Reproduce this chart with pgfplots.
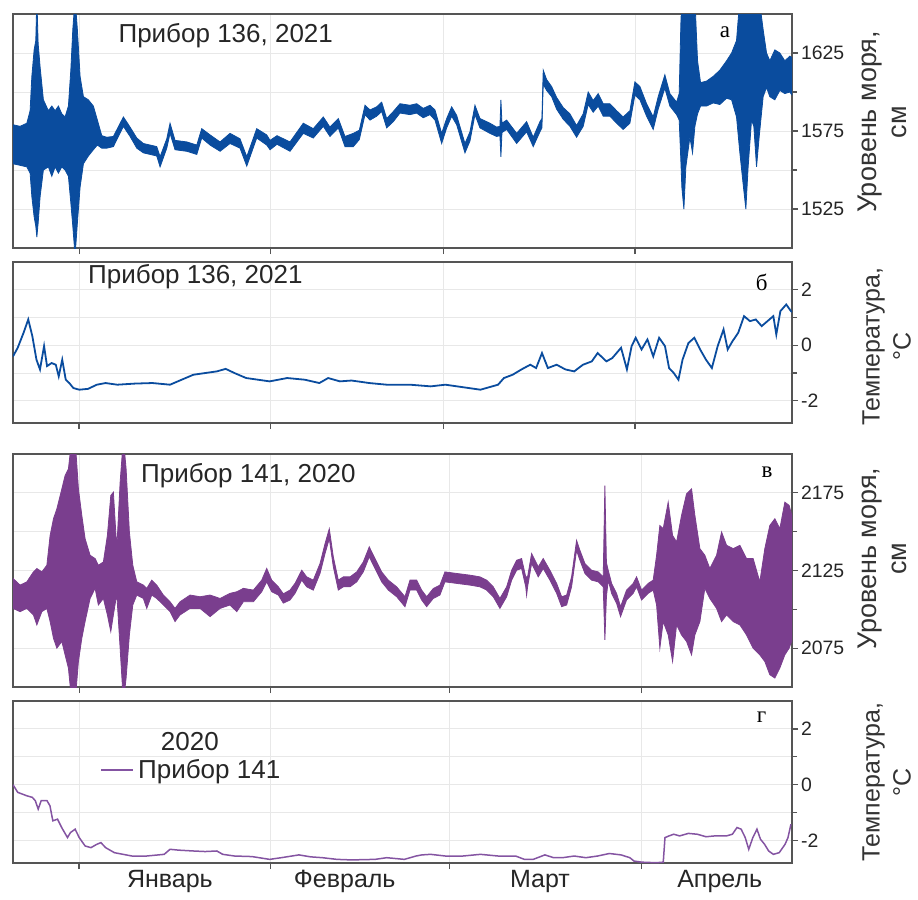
\documentclass[border=0pt]{standalone}
\usepackage{fontspec}
\setmainfont{Liberation Sans}
\newfontfamily\seriffont{Liberation Serif}
\usepackage{pgfplots}
\usepackage{pgfplotstable}
\pgfplotsset{compat=1.18}
\usepgfplotslibrary{fillbetween}

\definecolor{seablue}{RGB}{10,76,158}
\definecolor{seapurple}{RGB}{122,62,142}
\definecolor{temppurple}{RGB}{132,84,162}
\definecolor{framegray}{RGB}{85,85,85}

% sea level, device 136 (2021): day from 1 Jan, lower and upper envelope, cm
\pgfplotstableread{
x lo hi
-10.7 1554 1579
-9.55 1553 1578
-8.46 1552 1580
-7.93 1548 1588
-7.65 1533 1610
-7.28 1520 1627
-7.01 1514 1633
-6.84 1507 1660
-6.63 1516 1631
-6.31 1533 1616
-5.78 1550 1595
-4.97 1552 1588
-4.42 1546 1591
-3.88 1552 1588
-3.35 1548 1591
-2.80 1552 1586
-2.27 1550 1584
-1.73 1546 1591
-1.34 1529 1614
-1.02 1514 1640
-0.65 1495 1660
-0.28 1516 1640
0.16 1539 1610
0.70 1554 1597
1.50 1559 1595
2.31 1563 1591
2.96 1566 1582
3.67 1564 1572
4.48 1564 1571
5.55 1565 1571.5
7.17 1578 1584
8.25 1571.5 1577.5
9.34 1564 1570.5
10.40 1561 1567
12.57 1559 1565
13.11 1552 1558.5
14.19 1564 1570
14.72 1573.5 1580
15.53 1563 1569
17.43 1562 1568
19.05 1560 1566
19.85 1570.5 1576.5
21.20 1566 1572.5
22.82 1562 1568
24.43 1567 1573.5
26.05 1564 1570
27.14 1552.5 1558.5
28.75 1570.5 1576.5
30.37 1566 1572.5
30.91 1563 1569
32.04 1566.5 1572
34.14 1562 1568
36.29 1573.5 1580
37.91 1570.5 1576.5
39.53 1578 1584
40.61 1571.5 1577.5
41.96 1577 1583
43.04 1565 1571.5
44.39 1565 1573.5
45.36 1569.5 1575.5
46.28 1585.5 1591.5
47.09 1582 1588.5
48.17 1584.5 1590.5
48.98 1587.5 1593.5
49.79 1577 1583
50.86 1581 1587.5
51.94 1586.5 1592.5
53.56 1585.5 1591.5
54.64 1586.5 1592.5
55.71 1583.5 1589.5
56.80 1585.5 1591.5
57.61 1582 1588.5
58.69 1567 1573.5
59.50 1577 1583
60.31 1584.5 1590.5
61.12 1579 1585
62.46 1561 1567
63.27 1568.5 1574.5
64.08 1585.5 1591.5
64.89 1577 1583
66.50 1573.5 1580
67.59 1571.5 1577.5
68.12 1572 1578
68.28 1558.5 1595
68.45 1574 1580
69.21 1576 1582
70.83 1567 1573.5
72.44 1574.5 1581
73.51 1565 1571
74.60 1574.5 1581
74.92 1577 1583
75.13 1605 1614
75.68 1601 1608
76.49 1597 1603.5
77.30 1589 1596.5
78.37 1582.5 1590
79.45 1578 1586
80.53 1571 1578.5
81.60 1578 1586
82.41 1592 1600
83.22 1587 1594.5
84.03 1591 1599
84.84 1584.5 1592.5
85.92 1584.5 1592.5
87.01 1580 1588
88.07 1576 1584
89.16 1580 1588
89.97 1598 1606.5
90.78 1595 1603.5
91.86 1584.5 1592.5
92.93 1576 1584
93.74 1589 1597
94.82 1602.5 1611
95.63 1591 1599
96.72 1585.5 1593.5
97.14 1582 1599
97.41 1556 1644
97.57 1539 1660
97.90 1525 1660
98.22 1552 1660
98.87 1571 1660
99.30 1561 1660
99.68 1578 1660
100.11 1586 1620
100.60 1591 1606
101.57 1591 1607
102.64 1593 1610
103.72 1592 1614
104.81 1596 1620
105.62 1595 1625
106.42 1584 1633
106.96 1561 1660
107.49 1541 1660
107.93 1525 1660
108.30 1552 1660
108.85 1582 1660
109.22 1578 1660
109.66 1552 1660
110.08 1571 1660
110.73 1597 1640
111.28 1603 1625
111.81 1597 1620
112.62 1595 1627
113.43 1601 1625
114.24 1599 1620
115.05 1600 1623
115.40 1598 1622
}\levelA

% temperature, device 136 (2021), deg C
\pgfplotstableread{
x t
-10.7 -0.40
-9.94 -0.09
-8.99 0.45
-8.23 0.93
-7.57 0.33
-6.90 -0.52
-6.33 -0.87
-5.67 -0.03
-5.19 -0.75
-4.44 -0.64
-3.77 -0.70
-3.30 -1.12
-2.73 -0.52
-2.16 -1.24
-1.59 -1.36
-0.93 -1.54
0.02 -1.60
1.44 -1.57
2.87 -1.42
4.29 -1.36
6.18 -1.42
9.03 -1.38
11.87 -1.36
14.72 -1.42
16.61 -1.24
18.51 -1.06
20.41 -1.00
22.30 -0.94
23.73 -0.85
25.15 -1.00
27.04 -1.18
28.94 -1.24
30.84 -1.30
33.68 -1.18
36.53 -1.24
38.89 -1.36
40.32 -1.18
42.22 -1.30
44.11 -1.27
46.96 -1.36
49.80 -1.42
53.59 -1.42
56.91 -1.48
59.28 -1.42
61.18 -1.48
63.08 -1.54
64.97 -1.60
66.87 -1.48
67.82 -1.42
68.77 -1.18
70.19 -1.06
71.61 -0.87
73.03 -0.70
73.98 -0.82
74.93 -0.28
75.88 -0.82
77.30 -0.70
78.72 -0.87
80.14 -0.94
81.57 -0.70
82.99 -0.58
83.94 -0.28
85.36 -0.58
86.31 -0.46
87.73 -0.09
88.68 -0.87
89.44 -0.03
90.10 0.27
91.05 -0.15
92.00 0.21
92.94 -0.40
93.89 0.27
94.84 -0.03
95.50 -0.82
96.26 -1.00
97.02 -1.24
97.68 -0.52
98.63 0.08
99.58 0.27
100.53 -0.15
101.48 -0.52
102.43 -0.82
103.37 -0.03
104.32 0.57
104.99 -0.15
105.75 0.14
106.69 0.45
107.64 1.05
108.59 0.87
109.54 0.93
110.49 0.69
111.43 0.87
112.38 1.05
112.86 0.39
113.52 1.23
114.47 1.47
115.23 1.23
115.40 1.20
}\tempA

% sea level, device 141 (2020)
\pgfplotstableread{
x lo hi
-10.7 2100.6 2119.9
-9.55 2098.5 2115.6
-8.46 2100.6 2117.7
-7.39 2096.4 2124.1
-6.84 2090 2126.3
-6.03 2098.5 2124.1
-5.22 2100.6 2128.4
-4.69 2092.1 2147.6
-4.15 2081.4 2158.3
-3.60 2075 2164.7
-2.79 2079.3 2177.6
-2.27 2070.7 2186.1
-1.73 2062.2 2190.4
-1.18 2040 2210
-0.65 2040 2210
-0.11 2066.4 2177.6
0.44 2081.4 2160.5
0.97 2092.1 2145.5
1.78 2107 2134.8
2.59 2113.5 2132.7
3.12 2102.8 2128.4
3.93 2107 2130.5
4.58 2096.4 2147.6
5.13 2085.7 2173.3
5.55 2096.4 2175.4
6.10 2110 2139
6.64 2075 2181.8
7.17 2040 2210
7.61 2055.8 2190.4
8.14 2083.5 2149.8
8.69 2102.8 2128.4
9.34 2109.2 2117.7
10.40 2107 2115.6
10.95 2100.6 2113.5
11.76 2109.2 2118.8
12.57 2107 2115.6
13.64 2102.8 2109.2
14.72 2098.5 2104.9
15.53 2092.1 2100.6
16.34 2096.4 2104.9
17.96 2100.6 2109.2
19.58 2100.6 2108.1
21.20 2095.3 2109.2
22.82 2100.6 2107
24.43 2102.8 2110.3
25.52 2098.5 2111.3
26.59 2104.9 2113.5
28.21 2104.9 2112.4
29.56 2111.3 2118.8
30.37 2117.7 2126.3
31.18 2111.3 2118.8
32.25 2109.2 2114.5
33.06 2104 2110
34.14 2106 2112.4
34.95 2110.3 2116.7
36.04 2118.8 2125.2
36.84 2114.5 2120.9
37.91 2112.4 2118.8
39.00 2123.1 2129.5
39.81 2135.9 2142.3
40.50 2145.5 2151.9
41.15 2127.4 2133.8
41.96 2112.4 2118.8
42.77 2114.5 2120.9
43.85 2114.5 2120.9
44.94 2117.7 2124.1
46.00 2124.1 2130.5
46.97 2133.8 2140.2
47.90 2126.3 2132.7
48.98 2117.7 2124.1
50.05 2112.4 2118.8
51.41 2108.1 2114.5
52.75 2101.7 2108.1
53.56 2112.4 2118.8
54.64 2112.4 2118.8
55.45 2106 2112.4
56.26 2101.7 2108.1
57.33 2107 2113.4
58.41 2109.2 2115.6
59.22 2117.7 2124.1
61.12 2116.7 2123.1
63.27 2115.6 2122
64.89 2114.5 2120.9
65.97 2112.4 2118.8
67.04 2108.1 2114.5
68.12 2100.6 2107
69.21 2108.1 2114.5
70.02 2118.8 2125.2
70.83 2125.2 2131.6
71.63 2126.3 2132.7
72.30 2114.5 2120.9
72.44 2109 2120.9
72.60 2114.5 2120.9
73.25 2129.5 2135.9
74.06 2123.1 2129.5
74.32 2120.9 2127.3
75.13 2126.3 2132.7
76.21 2118.8 2125.2
77.30 2110.3 2116.7
78.11 2101.7 2108.1
78.92 2102.8 2109.2
79.72 2114.5 2120.9
80.53 2138 2144.4
81.07 2131.6 2138
81.88 2123.1 2129.5
82.96 2118.8 2125.2
84.03 2117.7 2124.1
84.84 2114.5 2120.9
85.11 2080.3 2179.7
85.36 2108 2130
85.65 2118.8 2125.2
86.20 2110.3 2116.7
87.01 2103.8 2110.2
87.65 2095.3 2101.7
88.62 2106 2112.4
89.69 2110.3 2116.7
90.24 2114.5 2120.9
91.05 2106 2112.4
92.12 2110.3 2116.7
92.93 2112.4 2118.8
93.48 2102.8 2134.8
94.01 2075 2154
94.55 2092.1 2151.9
95.36 2083.5 2169
96.07 2066.4 2147.6
96.72 2090 2143.4
97.52 2083.5 2160.5
98.33 2079.3 2174.4
99.14 2070.7 2177.6
99.68 2083.5 2160.5
100.49 2092.1 2139.1
101.29 2113.5 2134.8
102.10 2107 2126.3
103.19 2100.6 2134.8
104.00 2092.1 2149.8
104.81 2096.4 2141.2
105.88 2092.1 2139.1
106.96 2090 2141.2
108.04 2083.5 2132.7
109.11 2075 2132.7
110.19 2070.7 2117.7
111.00 2066.4 2139.1
111.81 2057.9 2154
112.62 2055.8 2158.3
113.43 2062.2 2151.9
114.24 2070.7 2169
114.94 2075 2166.9
115.40 2080 2160
}\levelB

% temperature, device 141 (2020)
\pgfplotstableread{
x t
-10.69 0.00
-9.94 -0.27
-8.51 -0.39
-7.57 -0.45
-7.09 -0.57
-6.62 -0.87
-6.14 -0.57
-5.19 -0.57
-4.72 -0.75
-4.25 -1.29
-3.49 -1.23
-2.82 -1.53
-1.88 -1.89
-1.40 -1.71
-0.64 -1.59
0.02 -1.89
0.97 -2.19
1.92 -2.25
2.87 -2.13
3.53 -2.07
4.29 -2.25
5.71 -2.43
7.13 -2.49
8.56 -2.55
10.93 -2.55
13.77 -2.49
14.72 -2.31
16.14 -2.34
18.51 -2.37
20.41 -2.39
22.30 -2.37
23.25 -2.49
25.15 -2.55
27.99 -2.57
30.84 -2.67
32.73 -2.61
35.58 -2.51
37.47 -2.58
39.37 -2.61
41.74 -2.67
44.11 -2.69
47.90 -2.67
49.80 -2.61
52.65 -2.67
54.54 -2.55
55.49 -2.51
56.91 -2.49
59.28 -2.55
62.13 -2.55
64.97 -2.49
67.82 -2.55
70.66 -2.55
72.08 -2.67
73.51 -2.67
75.40 -2.51
76.82 -2.61
78.25 -2.61
80.14 -2.55
82.04 -2.61
83.94 -2.55
85.83 -2.46
87.73 -2.51
89.15 -2.61
89.82 -2.73
91.05 -2.77
93.42 -2.79
94.56 -2.77
94.84 -1.89
95.50 -1.83
96.26 -1.77
97.21 -1.83
98.63 -1.74
100.06 -1.77
101.48 -1.86
102.90 -1.83
104.80 -1.83
105.75 -1.77
106.50 -1.53
107.17 -1.59
107.83 -1.89
108.40 -2.31
109.06 -1.89
109.73 -1.59
110.30 -1.95
110.96 -2.13
111.62 -2.37
112.38 -2.49
113.33 -2.43
114.28 -2.13
114.75 -1.89
115.23 -1.41
}\tempB

\pgfplotsset{
  panel/.style={
    scale only axis,
    width=389.5pt,
    xmin=-10.7, xmax=115.4,
    axis line style={draw=framegray, line width=0.9pt},
    tick align=outside,
    tick style={draw=framegray, line width=0.6pt},
    major tick length=3pt, minor tick length=2.5pt,
    xtick pos=left, ytick pos=right, yticklabel pos=right,
    xticklabels={},
    minor y tick num=1,
    grid=both,
    major grid style={draw=black!9, line width=0.5pt},
    minor grid style={draw=black!9, line width=0.5pt},
    yticklabel style={font=\fontsize{9.7}{10}\selectfont, text=black!85, xshift=-2pt},
    /pgf/number format/assume math mode=true,
    /pgf/number format/1000 sep={},
    clip=true,
  },
}
\tikzset{
  ptitle/.style={anchor=west, inner sep=0pt, font=\fontsize{13}{15}\selectfont, text=black!85},
  pletter/.style={font=\seriffont\fontsize{11.5}{12}\selectfont},
  sidelabel/.style={rotate=90, anchor=north, align=center, inner sep=0pt,
    font=\fontsize{12.5}{15.5}\selectfont, text=black!80},
  levellabel/.style={sidelabel, font=\fontsize{13.5}{15}\selectfont},
}

\begin{document}
\begin{tikzpicture}
\path (0,0) rectangle (459pt,-448pt);

% а: sea level 136
\begin{axis}[panel, name=pa, at={(6.5pt,-7pt)}, anchor=north west, height=117pt,
  ymin=1500, ymax=1650, ytick={1525,1575,1625},
  xtick={0,31,59,90}]
\addplot[name path=ahi, draw=seablue, line width=0.4pt] table[x=x,y=hi]{\levelA};
\addplot[name path=alo, draw=seablue, line width=0.4pt] table[x=x,y=lo]{\levelA};
\addplot[fill=seablue, draw=none] fill between[of=ahi and alo];
\node[ptitle] at (axis description cs:0.135,0.906) {Прибор 136, 2021};
\node[pletter] at (axis description cs:0.914,0.923) {а};
\end{axis}
\node[levellabel] at ([xshift=33pt,yshift=4.5pt]pa.east) {Уровень моря,\\см};

% б: temperature 136
\begin{axis}[panel, name=pb, at={(6.5pt,-131pt)}, anchor=north west, height=80.5pt,
  ymin=-2.8, ymax=3, ytick={-2,0,2},
  xtick={0,31,59,90}]
\addplot[draw=seablue, line width=0.9pt] table[x=x,y=t]{\tempA};
\node[ptitle] at (axis description cs:0.096,0.907) {Прибор 136, 2021};
\node[pletter] at (axis description cs:0.961,0.876) {б};
\end{axis}
\node[sidelabel] at ([xshift=35pt,yshift=-2pt]pb.east) {Температура,\\°C};

% в: sea level 141
\begin{axis}[panel, name=pc, at={(6.5pt,-227pt)}, anchor=north west, height=116.5pt,
  ymin=2050, ymax=2200, ytick={2075,2125,2175},
  xtick={0,31,60,91}]
\addplot[name path=bhi, draw=seapurple, line width=0.4pt] table[x=x,y=hi]{\levelB};
\addplot[name path=blo, draw=seapurple, line width=0.4pt] table[x=x,y=lo]{\levelB};
\addplot[fill=seapurple, draw=none] fill between[of=bhi and blo];
\node[ptitle] at (axis description cs:0.164,0.906) {Прибор 141, 2020};
\node[pletter] at (axis description cs:0.968,0.92) {в};
\end{axis}
\node[levellabel] at ([xshift=33pt,yshift=6pt]pc.east) {Уровень моря,\\см};

% г: temperature 141
\begin{axis}[panel, name=pd, at={(6.5pt,-350.5pt)}, anchor=north west, height=81pt,
  ymin=-2.8, ymax=3, ytick={-2,0,2},
  xtick={0,31,60,91},
  extra x ticks={14.7,43,74.6,103.7},
  extra x tick labels={Январь,Февраль,Март,Апрель},
  extra x tick style={grid=none, major tick length=0pt,
    xticklabel style={font=\fontsize{12.5}{13}\selectfont, text=black!85}},
  legend style={draw=none, fill=none, at={(axis description cs:0.112,0.574)},
    anchor=west, font=\fontsize{13}{15}\selectfont, text=black!85, inner sep=0pt},
  legend image code/.code={\draw[#1] (0pt,0pt) -- (12.5pt,0pt); \path (0pt,0pt) -- (16pt,0pt);}]
\addplot[draw=temppurple, line width=0.75pt] table[x=x,y=t]{\tempB};
\addlegendentry{Прибор 141}
\node[font=\fontsize{13}{15}\selectfont, text=black!85] at (axis description cs:0.227,0.747) {2020};
\node[pletter] at (axis description cs:0.961,0.9) {г};
\end{axis}
\node[sidelabel] at ([xshift=35pt]pd.east) {Температура,\\°C};
\end{tikzpicture}
\end{document}
